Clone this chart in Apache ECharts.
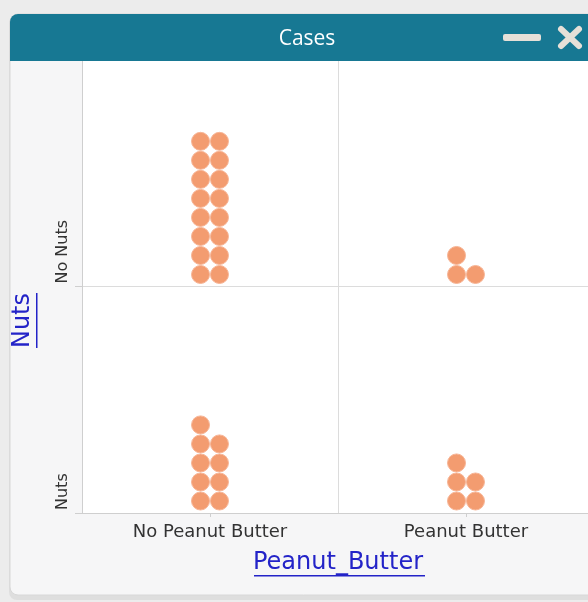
<!DOCTYPE html>
<html>
<head>
<meta charset="utf-8">
<script src="https://cdn.jsdelivr.net/npm/echarts@6/dist/echarts.min.js"></script>
<style>
html,body{margin:0;padding:0;background:#eeeeee;}
#chart{width:588px;height:602px;}
</style>
</head>
<body>
<div id="chart"></div>
<script>
// ---- data ----
const xCategories = ['No Peanut Butter', 'Peanut Butter'];
const yCategories = ['Nuts', 'No Nuts'];           // bottom row first
const countsNuts = [9, 5];                          // row "Nuts": per x category
const countsNoNuts = [16, 3];                       // row "No Nuts": per x category
const xTitle = 'Peanut_Butter';
const yTitle = 'Nuts';
const windowTitle = 'Cases';

// ---- build dot-stack points (2 dots per level, stacked upward) ----
const DX = 0.037, Y0 = 0.053, DY = 0.084;
const rows = [countsNuts, countsNoNuts];
const points = [];
rows.forEach((row, r) => {
  row.forEach((n, c) => {
    for (let i = 0; i < n; i++) {
      const level = Math.floor(i / 2);
      const side = i % 2 ? 1 : -1;
      points.push([c + 0.5 + side * DX, r + Y0 + level * DY]);
    }
  });
});

const chart = echarts.init(document.getElementById('chart'), null, {renderer: 'canvas'});
const LINK = '#2323c8';
const ICON = '#e6e0d8';
chart.setOption({
  backgroundColor: '#ececec',
  animation: false,
  title: {
    text: windowTitle, left: 302, top: 24, textAlign: 'center',
    textStyle: {color: '#ffffff', fontFamily: 'Open Sans', fontSize: 21, fontWeight: 'normal'},
    z: 120
  },
  grid: {
    left: 82, top: 60, right: -6, bottom: 89,
    show: true, backgroundColor: '#ffffff', borderWidth: 0,
    outerBoundsMode: 'none', containLabel: false
  },
  xAxis: [{
    type: 'category', data: xCategories, boundaryGap: true,
    axisLine: {show: true, lineStyle: {color: '#cfcfcf', width: 1}},
    axisTick: {show: true, alignWithLabel: true, length: 4, lineStyle: {color: '#cfcfcf'}},
    splitLine: {show: true, lineStyle: {color: '#dcdcdc', width: 1}},
    axisLabel: {color: '#333333', fontFamily: 'DejaVu Sans', fontSize: 18, margin: 10},
    name: xTitle, nameLocation: 'middle', nameGap: 38,
    nameTextStyle: {color: LINK, fontFamily: 'DejaVu Sans', fontSize: 24}
  }, {
    type: 'value', min: 0, max: 2, show: false
  }],
  yAxis: [{
    type: 'value', min: 0, max: 2, interval: 1,
    axisLine: {show: true, lineStyle: {color: '#cfcfcf', width: 1}},
    axisTick: {show: true, length: 7, customValues: [0, 1], lineStyle: {color: '#cfcfcf'}},
    splitLine: {show: true, lineStyle: {color: '#dcdcdc', width: 1}},
    axisLabel: {
      rotate: 90, align: 'left', verticalAlign: 'middle', margin: 19,
      customValues: [0, 1], padding: [0, 0, 0, 3],
      formatter: v => yCategories[v] || '',
      color: '#333333', fontFamily: 'DejaVu Sans', fontSize: 16
    },
    name: yTitle, nameLocation: 'middle', nameGap: 47, nameRotate: 90,
    nameTextStyle: {color: LINK, fontFamily: 'DejaVu Sans', fontSize: 24, padding: [0, 68, 0, 0]}
  }],
  series: [{
    type: 'scatter', xAxisIndex: 1, yAxisIndex: 0,
    data: points, symbol: 'circle', symbolSize: 18,
    itemStyle: {color: '#f39c70', borderColor: '#f7b596', borderWidth: 1, opacity: 1},
    z: 5
  }],
  graphic: [
    // panel shadow + body
    {type: 'rect', z: -11, shape: {x: 9, y: 16, width: 600, height: 584, r: [8, 0, 0, 8]}, style: {fill: '#dedede'}},
    {type: 'rect', z: -10, shape: {x: 10, y: 14, width: 600, height: 581, r: [8, 0, 0, 8]},
     style: {fill: '#f6f6f7', stroke: '#d8d8d8', lineWidth: 1}},
    // title bar
    {type: 'rect', z: 100, shape: {x: 10, y: 14, width: 600, height: 47, r: [8, 0, 0, 0]},
     style: {fill: '#177893'}},
    // minimize icon
    {type: 'rect', z: 110, shape: {x: 503, y: 34, width: 38, height: 7, r: 2}, style: {fill: ICON}},
    // close icon
    {type: 'line', z: 110, shape: {x1: 561, y1: 29, x2: 579, y2: 46},
     style: {stroke: ICON, lineWidth: 6, lineCap: 'round'}},
    {type: 'line', z: 110, shape: {x1: 579, y1: 29, x2: 561, y2: 46},
     style: {stroke: ICON, lineWidth: 6, lineCap: 'round'}},
    // underlines of axis titles
    {type: 'rect', z: 50, shape: {x: 254, y: 575, width: 171, height: 1.5}, style: {fill: LINK}},
    {type: 'rect', z: 50, shape: {x: 36, y: 293, width: 1.5, height: 55}, style: {fill: LINK}}
  ]
});
</script>
</body>
</html>
